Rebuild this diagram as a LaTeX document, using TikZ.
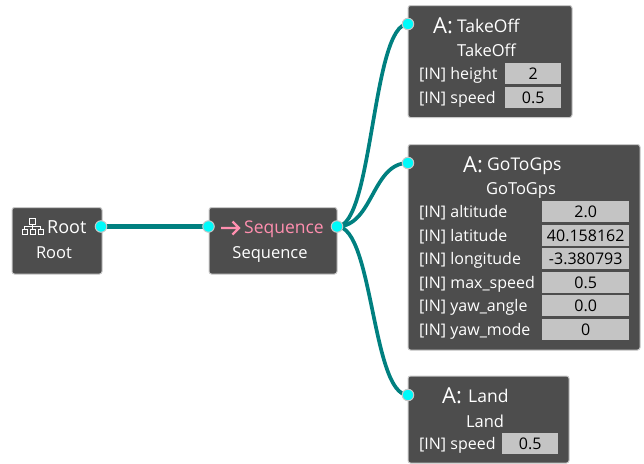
\documentclass[tikz,border=0pt]{standalone}
\usepackage{fontspec}
\setmainfont{Open Sans}
\usetikzlibrary{backgrounds}
\definecolor{boxgray}{HTML}{4D4D4D}
\definecolor{rimgray}{HTML}{C8C8C8}
\definecolor{valgray}{HTML}{C4C4C4}
\definecolor{linkteal}{HTML}{008080}
\definecolor{seqpink}{HTML}{FF8FAF}
\definecolor{portcyan}{HTML}{00FAFA}
\tikzset{
treebox/.style={draw=rimgray, fill=boxgray, line width=1pt, rounded corners=2.5pt, anchor=north west, inner sep=0pt},
portdot/.style={circle, draw=rimgray, fill=portcyan, line width=1pt, minimum size=11.5pt, inner sep=0pt},
linkline/.style={draw=linkteal, line width=3.7pt},
title/.style={text=white, font=\fontsize{17.5}{18}\selectfont, inner sep=0pt, anchor=base west},
nametext/.style={text=white, font=\fontsize{16.5}{17}\selectfont, inner sep=0pt, anchor=base},
bigtitle/.style={text=white, font=\fontsize{22}{22}\selectfont, inner sep=0pt, anchor=base west},
inlabel/.style={text=white, font=\fontsize{16}{17}\selectfont, anchor=base west, inner sep=0pt},
valbox/.style={fill=valgray, text=black, font=\fontsize{16}{17}\selectfont, minimum height=21pt, inner sep=0pt, anchor=north west},
iconpart/.style={draw=white, line width=0.7pt, minimum size=5pt, inner sep=0pt}
}
\begin{document}
\begin{tikzpicture}[x=1pt,y=-1pt]
\useasboundingbox (0,0) rectangle (644,463);
% boxes
\node[treebox, minimum width=90pt, minimum height=66.5pt] (root) at (11.5,207) {};
\node[treebox, minimum width=128pt, minimum height=66.5pt] (seq) at (208.5,207) {};
\node[treebox, minimum width=164pt, minimum height=112pt] (takeoff) at (407.5,5) {};
\node[treebox, minimum width=232pt, minimum height=205.5pt] (gotogps) at (407.5,144) {};
\node[treebox, minimum width=161pt, minimum height=87pt] (land) at (407.5,375.5) {};
% ports
\node[portdot] (rootout) at (101,226.5) {};
\node[portdot] (seqin) at (208.5,226.5) {};
\node[portdot] (seqout) at (337,226.5) {};
\node[portdot] (takeoffin) at (408,24) {};
\node[portdot] (gotogpsin) at (408,163) {};
\node[portdot] (landin) at (408,395) {};
% links
\begin{scope}[on background layer]
\draw[linkline, line width=4.6pt] (rootout.center) -- (seqin.center);
\draw[linkline] (seqout.center) .. controls +(36,0) and +(-36,0) .. (takeoffin.center);
\draw[linkline] (seqout.center) .. controls +(36,0) and +(-36,0) .. (gotogpsin.center);
\draw[linkline] (seqout.center) .. controls +(36,0) and +(-36,0) .. (landin.center);
\end{scope}
% root
\node[iconpart, minimum size=6pt] (treetop) at (32.5,221) {};
\foreach \x/\name in {24.5/a,32.5/b,40.5/c} {
\node[iconpart] (leaf\name) at (\x,231.5) {};
}
\draw[white, line width=0.7pt] (treetop.south) -- (leafb.north);
\draw[white, line width=0.7pt] (leafa.north) |- (32.5,226.5) -| (leafc.north);
\node[title] (roottitle) at (47,233) {\fontsize{18}{18}\selectfont Root};
\node[nametext] (rootname) at (54,258) {Root};
% sequence
\draw[seqpink, line width=2.2pt] (221,228) -- (239,228) (232.5,221.5) -- (239,228) -- (232.5,234.5);
\node[title, text=seqpink] (seqtitle) at (244,233) {Sequence};
\node[nametext] (seqname) at (270,258) {Sequence};
% takeoff
\node[bigtitle] (takeoffa) at (433,33) {A:};
\node[title] (takeofftitle) at (457,32) {TakeOff};
\node[nametext] (takeoffname) at (486.5,56) {TakeOff};
\foreach \y/\lab/\val in {63/height/2,87/speed/0.5} {
\node[inlabel] (lab\lab) at (419,\y+16) {[IN] \lab};
\node[valbox, minimum width=56pt] (val\lab) at (505,\y) {\val};
}
% gotogps
\node[bigtitle] (gotoa) at (463,172) {A:};
\node[title] (gototitle) at (487,170) {GoToGps};
\node[nametext] (gotoname) at (521,194) {GoToGps};
\foreach \y/\lab/\val in {201/altitude/2.0,225/latitude/40.158162,248/longitude/-3.380793,272/max\_speed/0.5,295/yaw\_angle/0.0,319/yaw\_mode/0} {
\node[inlabel] at (419,\y+16) {[IN] \lab};
\node[valbox, minimum width=87pt] at (542,\y) {\val};
}
% land
\node[bigtitle] (landa) at (442,403) {A:};
\node[title] (landtitle) at (468,402) {Land};
\node[nametext] (landname) at (485,427) {Land};
\node[inlabel] (landlab) at (419,449) {[IN] speed};
\node[valbox, minimum width=56pt] (landval) at (502,433) {0.5};
\end{tikzpicture}
\end{document}
